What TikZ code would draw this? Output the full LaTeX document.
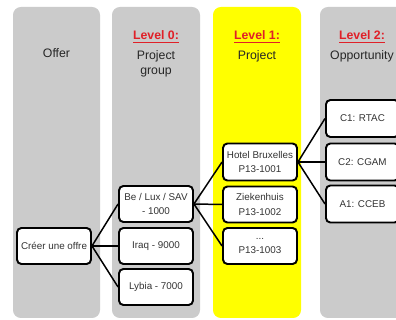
\documentclass[tikz,border=0pt]{standalone}
\usepackage{fontspec}
\setmainfont{Liberation Sans}
\definecolor{colgray}{HTML}{CBCBCB}
\definecolor{colyellow}{HTML}{FFFF00}
\definecolor{lvlred}{HTML}{E02028}
\newcommand{\lvl}[1]{{\color{lvlred}\bfseries\underline{#1}}}
\tikzset{
  column/.style={rounded corners=4.5pt},
  head/.style={font=\fontsize{7}{8.5}\selectfont, text=black!85, inner sep=0pt, align=center},
  box/.style={draw, line width=1.1pt, rounded corners=2.5pt, fill=white,
    minimum width=1.48cm, minimum height=0.72cm, inner sep=1pt, align=center,
    text=black!80, font=\fontsize{5.6}{8.5}\selectfont},
  oppbox/.style={box, minimum width=1.46cm, minimum height=0.74cm, anchor=west},
  link/.style={line width=0.85pt}
}
\begin{document}
\begin{tikzpicture}[x=0.02cm,y=-0.02cm]
    \useasboundingbox(0,0)rectangle(396,320);
    \clip(0,0)rectangle(396,320);
    % columns
    \fill[colgray,column](13,7)rectangle(100,318);
    \fill[colgray,column](112,7)rectangle(200,318);
    \fill[colyellow,column](213,7)rectangle(301,318);
    \fill[colgray,column](320,7)rectangle(420,318);
    % headers
    \node[head](offer)at(56.5,53){Offer};
    \node[head](lvl0)at(156,37){\lvl{Level 0:}};
    \node[head](pgroup)at(156,63.5){Project\\group};
    \node[head](lvl1)at(257,37){\lvl{Level 1:}};
    \node[head](proj)at(257,56){Project};
    \node[head](lvl2)at(362,37){\lvl{Level 2:}};
    \node[head](opp)at(362,56){Opportunity};
    % offer
    \node[box](creer)at(54,246){Créer une offre};
    % level 0
    \node[box](belux)at(156,204){Be / Lux / SAV\\- 1000};
    \node[box](iraq)at(156,246){Iraq - 9000};
    \node[box](lybia)at(156,287){Lybia - 7000};
    % level 1
    \node[box,minimum height=0.74cm](hotel)at(260,162){Hotel Bruxelles\\P13-1001};
    \node[box](zieken)at(260,204.5){Ziekenhuis\\P13-1002};
    \node[box](pdots)at(260,246){...\\P13-1003};
    % level 2
    \node[oppbox](rtac)at(325,118.5){C1: RTAC};
    \node[oppbox](cgam)at(325,162){C2: CGAM};
    \node[oppbox](cceb)at(325,204){A1: CCEB};
    % links
    \draw[link](creer.east)--(belux.west);
    \draw[link](creer.east)--(iraq.west);
    \draw[link](creer.east)--(lybia.west);
    \draw[link](belux.east)--(hotel.west);
    \draw[link](belux.east)--(zieken.west);
    \draw[link](belux.east)--(pdots.west);
    \draw[link](hotel.east)--(rtac.west);
    \draw[link](hotel.east)--(cgam.west);
    \draw[link](hotel.east)--(cceb.west);
\end{tikzpicture}
\end{document}
